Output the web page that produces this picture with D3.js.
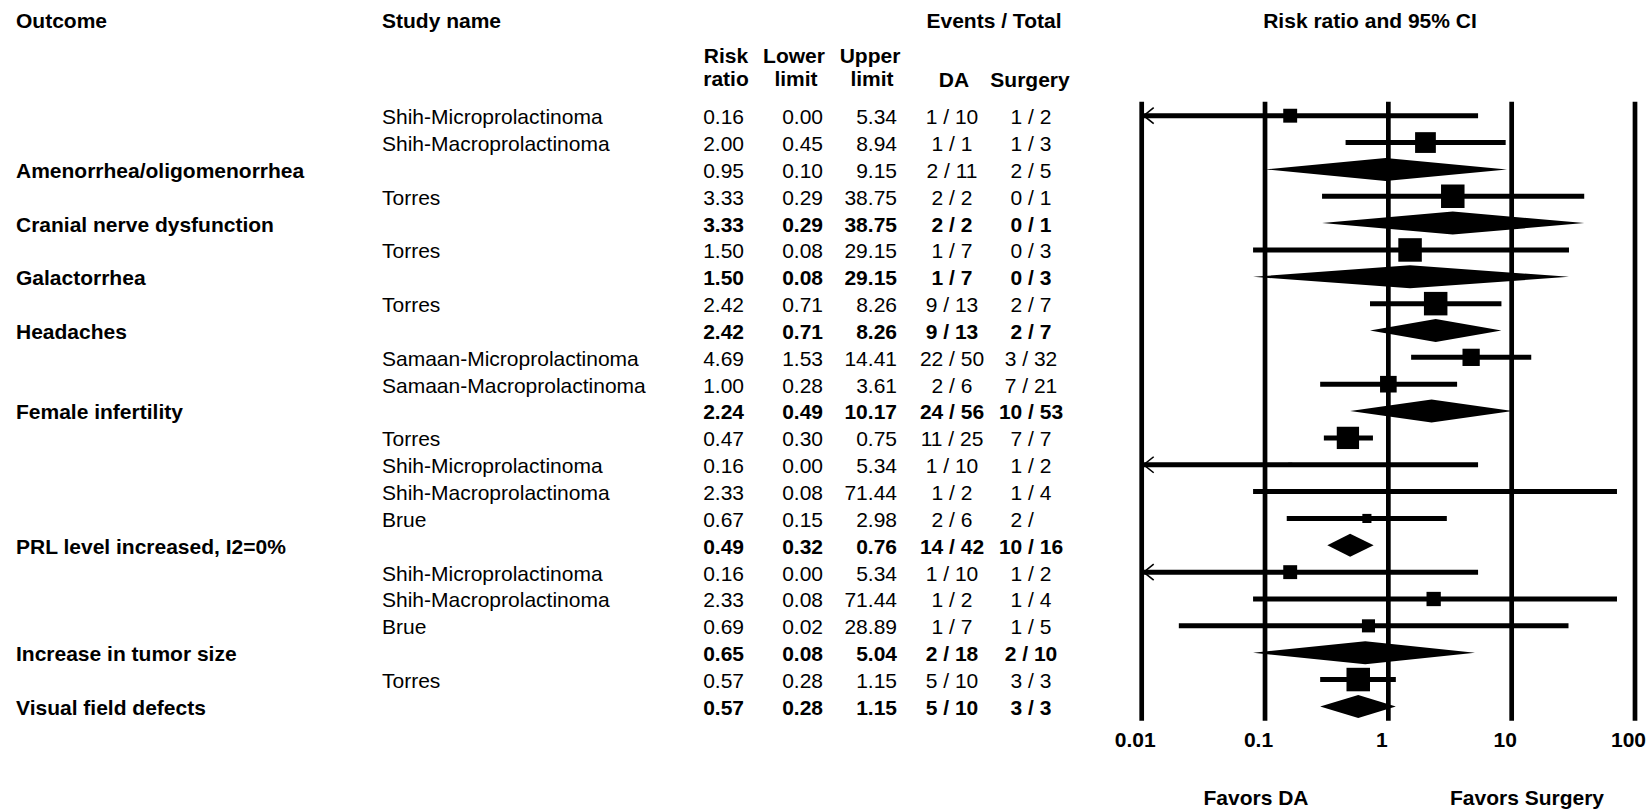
<!DOCTYPE html>
<html>
<head>
<meta charset="utf-8">
<script src="https://cdn.jsdelivr.net/npm/d3@7"></script>
<style>
  html, body { margin: 0; padding: 0; background: #fff; }
  text { font-family: "Liberation Sans", Arial, Helvetica, sans-serif; font-size: 21px; fill: #000; }
  .b { font-weight: bold; }
</style>
</head>
<body>
<svg id="chart" width="1651" height="810"></svg>
<script>
// One entry per printed row, top to bottom.
const studyNames = ["Shih-Microprolactinoma", "Shih-Macroprolactinoma", "", "Torres", "", "Torres", "", "Torres", "",
  "Samaan-Microprolactinoma", "Samaan-Macroprolactinoma", "", "Torres", "Shih-Microprolactinoma", "Shih-Macroprolactinoma",
  "Brue", "", "Shih-Microprolactinoma", "Shih-Macroprolactinoma", "Brue", "", "Torres", ""];
const outcomes = ["", "", "Amenorrhea/oligomenorrhea", "", "Cranial nerve dysfunction", "", "Galactorrhea", "", "Headaches",
  "", "", "Female infertility", "", "", "", "", "PRL level increased, I2=0%", "", "", "", "Increase in tumor size", "",
  "Visual field defects"];
const riskRatio  = [0.16, 2.00, 0.95, 3.33, 3.33, 1.50, 1.50, 2.42, 2.42, 4.69, 1.00, 2.24, 0.47, 0.16, 2.33, 0.67, 0.49, 0.16, 2.33, 0.69, 0.65, 0.57, 0.57];
const lowerLimit = [0.00, 0.45, 0.10, 0.29, 0.29, 0.08, 0.08, 0.71, 0.71, 1.53, 0.28, 0.49, 0.30, 0.00, 0.08, 0.15, 0.32, 0.00, 0.08, 0.02, 0.08, 0.28, 0.28];
const upperLimit = [5.34, 8.94, 9.15, 38.75, 38.75, 29.15, 29.15, 8.26, 8.26, 14.41, 3.61, 10.17, 0.75, 5.34, 71.44, 2.98, 0.76, 5.34, 71.44, 28.89, 5.04, 1.15, 1.15];
const daEvents = ["1 / 10", "1 / 1", "2 / 11", "2 / 2", "2 / 2", "1 / 7", "1 / 7", "9 / 13", "9 / 13", "22 / 50", "2 / 6",
  "24 / 56", "11 / 25", "1 / 10", "1 / 2", "2 / 6", "14 / 42", "1 / 10", "1 / 2", "1 / 7", "2 / 18", "5 / 10", "5 / 10"];
const surgeryEvents = ["1 / 2", "1 / 3", "2 / 5", "0 / 1", "0 / 1", "0 / 3", "0 / 3", "2 / 7", "2 / 7", "3 / 32", "7 / 21",
  "10 / 53", "7 / 7", "1 / 2", "1 / 4", "2 /", "10 / 16", "1 / 2", "1 / 4", "1 / 5", "2 / 10", "3 / 3", "3 / 3"];
// Relative study weight (percent) used for the box area; pooled rows have none.
const boxWeight = [35, 78, null, 100, null, 100, null, 100, null, 54, 50, null, 90, 3, 3, 15, null, 35, 37, 31, null, 100, null];
// Pooled rows whose numbers are printed in regular weight.
const plainTotals = ["Amenorrhea/oligomenorrhea"];
const axisTicks = [0.01, 0.1, 1, 10, 100];

const svg = d3.select("#chart");
const n = riskRatio.length;

const x = d3.scaleLog().domain([0.01, 100]).range([1141.7, 1635]);
const y = d3.scaleLinear().domain([0, n - 1]).range([115.7, 706.4]);
const box = d3.scaleSqrt().domain([0, 100]).range([0, 23.5]);
const fmt = d3.format(".2f");

// ---- column headers
const head = svg.append("g").attr("class", "b");
const hdr = (t, px, py, anchor) => head.append("text").attr("x", px).attr("y", py).attr("dy", "0.36em")
  .attr("text-anchor", anchor).text(t);
hdr("Outcome", 16, 20, "start");
hdr("Study name", 382, 20, "start");
hdr("Events / Total", 994, 20, "middle");
hdr("Risk ratio and 95% CI", 1370, 20, "middle");
hdr("Risk", 726, 55, "middle");
hdr("ratio", 726, 78, "middle");
hdr("Lower", 794, 55, "middle");
hdr("limit", 796, 78, "middle");
hdr("Upper", 870, 55, "middle");
hdr("limit", 872, 78, "middle");
hdr("DA", 954, 79, "middle");
hdr("Surgery", 1030, 79, "middle");

// ---- table rows
const rows = svg.append("g").selectAll("g").data(d3.range(n)).join("g")
  .attr("transform", i => `translate(0,${y(i)})`);

const isTotal = i => outcomes[i] !== "";
const boldVals = i => isTotal(i) && !plainTotals.includes(outcomes[i]);

rows.append("text").attr("class", "b").attr("x", 16).attr("dy", "0.4em").text(i => outcomes[i]);
rows.append("text").attr("x", 382).attr("dy", "0.4em").text(i => studyNames[i]);

const cell = (px, anchor, fn) => rows.append("text")
  .attr("class", i => boldVals(i) ? "b" : null)
  .attr("x", px).attr("dy", "0.4em").attr("text-anchor", anchor)
  .style("white-space", "pre")
  .text(fn);
cell(744, "end", i => fmt(riskRatio[i]));
cell(823, "end", i => fmt(lowerLimit[i]));
cell(897, "end", i => fmt(upperLimit[i]));
cell(952, "middle", i => daEvents[i]);
cell(1031, "middle", i => surgeryEvents[i].endsWith("/") ? surgeryEvents[i] + "   " : surgeryEvents[i]);

// ---- reference lines at each decade
const plot = svg.append("g");
plot.selectAll("line.ref").data(axisTicks).join("line")
  .attr("class", "ref")
  .attr("x1", d => x(d)).attr("x2", d => x(d))
  .attr("y1", 101.7).attr("y2", 720.7)
  .attr("stroke", "#000").attr("stroke-width", 4.7);

// ---- confidence intervals for single studies
const [xmin] = x.domain();
const studyIdx = d3.range(n).filter(i => !isTotal(i));
const marks = plot.append("g");

marks.selectAll("line.ci").data(studyIdx).join("line")
  .attr("class", "ci")
  .attr("x1", i => x(Math.max(lowerLimit[i], xmin)))
  .attr("x2", i => x(upperLimit[i]))
  .attr("y1", i => y(i)).attr("y2", i => y(i))
  .attr("stroke", "#000").attr("stroke-width", 5);

// open arrowheads where the lower limit runs past the axis
marks.selectAll("path.arrow").data(studyIdx.filter(i => lowerLimit[i] < xmin)).join("path")
  .attr("class", "arrow")
  .attr("d", i => {
    const x0 = x(xmin) + 2, yy = y(i);
    return `M${x0 + 10},${yy - 8}L${x0},${yy}L${x0 + 10},${yy + 8}`;
  })
  .attr("fill", "none").attr("stroke", "#000").attr("stroke-width", 1.6);

// weighted boxes
marks.selectAll("rect.box").data(studyIdx).join("rect")
  .attr("class", "box")
  .attr("x", i => x(riskRatio[i]) - box(boxWeight[i]) / 2)
  .attr("y", i => y(i) - box(boxWeight[i]) / 2)
  .attr("width", i => box(boxWeight[i]))
  .attr("height", i => box(boxWeight[i]))
  .attr("fill", "#000");

// ---- pooled estimates as diamonds
const totIdx = d3.range(n).filter(isTotal);
const halfH = 11.5;
marks.selectAll("path.diamond").data(totIdx).join("path")
  .attr("class", "diamond")
  .attr("d", i => {
    const yy = y(i);
    return `M${x(lowerLimit[i])},${yy}L${x(riskRatio[i])},${yy - halfH}L${x(upperLimit[i])},${yy}L${x(riskRatio[i])},${yy + halfH}Z`;
  })
  .attr("fill", "#000");

// ---- axis labels
const axis = svg.append("g").attr("transform", "translate(0,729)")
  .call(d3.axisBottom(x).tickValues(axisTicks).tickSize(0).tickFormat(d3.format("~g")));
axis.select(".domain").remove();
axis.selectAll("text").attr("class", "b").attr("x", -7);

svg.append("text").attr("class", "b").attr("x", 1256).attr("y", 797).attr("dy", "0.36em")
  .attr("text-anchor", "middle").text("Favors DA");
svg.append("text").attr("class", "b").attr("x", 1527).attr("y", 797).attr("dy", "0.36em")
  .attr("text-anchor", "middle").text("Favors Surgery");
</script>
</body>
</html>
